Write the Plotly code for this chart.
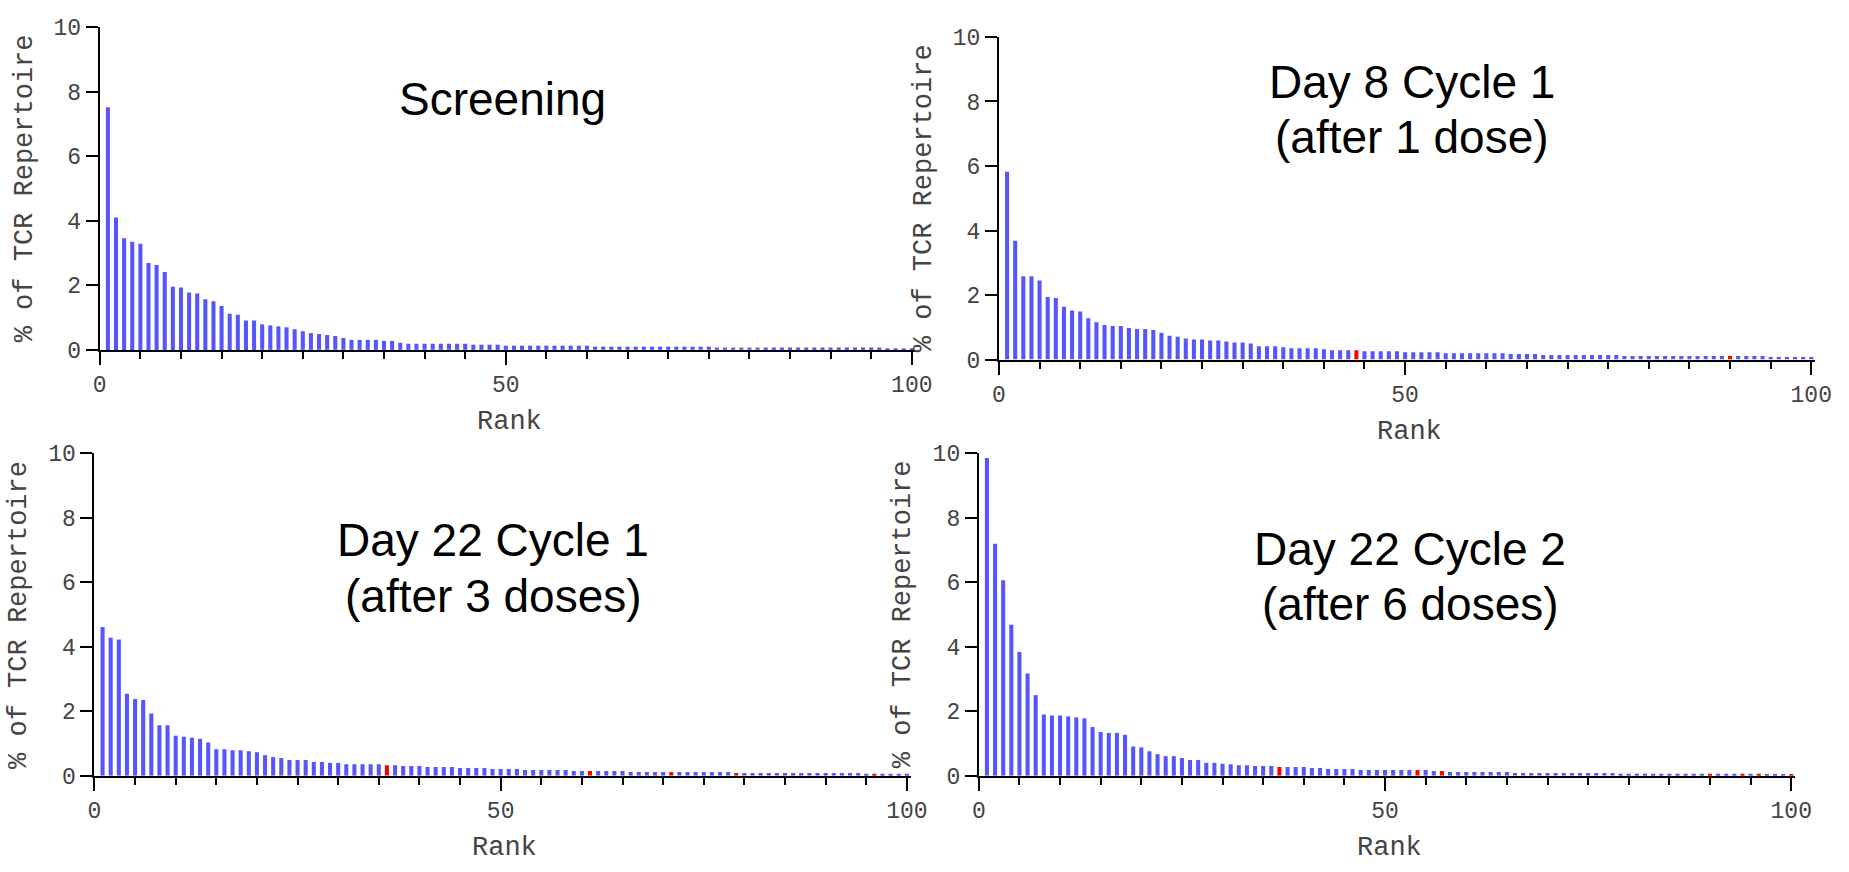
import plotly.graph_objects as go

ranks = list(range(1, 101))

def expand(head, runs):
    out = list(head)
    for val, n in runs:
        out += [val] * n
    return out

# Screening
screening = expand(
    [7.52, 4.10, 3.46, 3.35, 3.29, 2.69, 2.63, 2.41, 1.96, 1.93,
     1.78, 1.75, 1.57, 1.51, 1.36, 1.12, 1.09, 0.91, 0.91, 0.79,
     0.76, 0.73, 0.70, 0.64, 0.58, 0.52, 0.49, 0.46, 0.43, 0.37],
    [(0.31, 4), (0.28, 2), (0.22, 1), (0.19, 8), (0.16, 4), (0.13, 11),
     (0.10, 15), (0.07, 21), (0.04, 4)])
# Day 8 Cycle 1
d8c1 = expand(
    [5.82, 3.68, 2.58, 2.58, 2.45, 1.94, 1.91, 1.64, 1.52, 1.49,
     1.28, 1.16, 1.07, 1.04, 1.04, 0.98, 0.95, 0.95, 0.92, 0.83,
     0.74, 0.71, 0.65, 0.62, 0.62, 0.59, 0.59, 0.56, 0.53, 0.53, 0.50],
    [(0.41, 3), (0.38, 1), (0.35, 4), (0.32, 1), (0.29, 4), (0.26, 5),
     (0.23, 5), (0.20, 8), (0.17, 4), (0.14, 10), (0.11, 18), (0.08, 6)])
# Day 22 Cycle 1
d22c1 = expand(
    [4.61, 4.28, 4.22, 2.54, 2.38, 2.35, 1.93, 1.57, 1.57, 1.24,
     1.21, 1.18, 1.15, 1.03, 0.82, 0.82, 0.79, 0.79, 0.76, 0.73,
     0.64, 0.58, 0.55, 0.49, 0.49, 0.49, 0.43, 0.43, 0.40, 0.40],
    [(0.36, 5), (0.33, 2), (0.30, 3), (0.27, 4), (0.24, 4), (0.21, 4),
     (0.18, 6), (0.15, 7), (0.12, 13), (0.09, 16), (0.06, 6)])
# Day 22 Cycle 2
d22c2 = expand(
    [9.85, 7.19, 6.06, 4.68, 3.84, 3.17, 2.50, 1.90, 1.87, 1.87,
     1.84, 1.81, 1.78, 1.51, 1.36, 1.33, 1.33, 1.27, 0.91, 0.88,
     0.76, 0.67, 0.61, 0.61, 0.55, 0.49, 0.49, 0.40, 0.40, 0.37, 0.36],
    [(0.33, 2), (0.30, 3), (0.27, 4), (0.24, 2), (0.21, 4), (0.18, 9),
     (0.15, 2), (0.12, 8), (0.09, 13), (0.06, 18), (0.03, 4)])

# highlighted (red) ranks per panel
red_screening = []
red_d8c1 = [44, 90]
red_d22c1 = [36, 61, 71, 79, 96]
red_d22c2 = [37, 54, 57, 90, 94, 96, 100]

title_lines = [["Screening"],
               ["Day 8 Cycle 1", "(after 1 dose)"],
               ["Day 22 Cycle 1", "(after 3 doses)"],
               ["Day 22 Cycle 2", "(after 6 doses)"]]
series = [screening, d8c1, d22c1, d22c2]
reds = [red_screening, red_d8c1, red_d22c1, red_d22c2]
x_tickvals = [0, 50, 100]
y_tickvals = [0, 2, 4, 6, 8, 10]

BLUE = "#5656FF"
RED = "#FF0000"
W, H = 1849, 872

# panel geometry in pixels: (x at rank 0, px per rank, y at 0, y at 10)
geo = [(94.0, 8.227, 349.3, 16.7),
       (1005.0, 8.23, 359.3, 26.7),
       (88.6, 8.231, 788.3, 455.7),
       (984.6, 8.231, 788.3, 455.7)]
# title line anchors in data units (x centre, y per line)
title_x = [49.6, 50.8, 49.1, 53.1]
title_y = [[7.77], [8.61, 6.89], [7.32, 5.58], [7.04, 5.31]]

XMAX = 100.5
fig = go.Figure()
tick_font = dict(family="Courier New, Liberation Mono, monospace", size=23, color="#444444")
title_font = dict(family="Courier New, Liberation Mono, monospace", size=27, color="#444444")

for i in range(4):
    n = i + 1
    xa = "x" if n == 1 else f"x{n}"
    ya = "y" if n == 1 else f"y{n}"
    colors = [RED if r in reds[i] else BLUE for r in ranks]
    fig.add_trace(go.Bar(x=ranks, y=series[i], marker=dict(color=colors, line=dict(width=0)),
                         width=0.5, xaxis=xa, yaxis=ya, showlegend=False))
    x0, ppu, y0, y10 = geo[i]
    dx = [x0 / W, (x0 + XMAX * ppu) / W]
    dy = [1 - y0 / H, 1 - y10 / H]
    xkey = "xaxis" if n == 1 else f"xaxis{n}"
    ykey = "yaxis" if n == 1 else f"yaxis{n}"
    fig.layout[xkey] = dict(
        domain=dx, anchor=ya, range=[0, XMAX], tickvals=x_tickvals,
        ticks="outside", ticklen=13, tickwidth=2, tickcolor="black",
        showline=True, linewidth=2, linecolor="black", showgrid=False, zeroline=False,
        tickfont=tick_font,
        minor=dict(ticks="outside", ticklen=7, tickwidth=2, tickcolor="black", dtick=5, showgrid=False),
    )
    fig.layout[ykey] = dict(
        domain=dy, anchor=xa, range=[0, 10], tickvals=y_tickvals,
        ticks="outside", ticklen=12, tickwidth=2, tickcolor="black",
        showline=True, linewidth=2, linecolor="black", showgrid=False, zeroline=False,
        tickfont=tick_font,
    )
    xd = xa + " domain"
    yd = ya + " domain"
    fig.add_annotation(text="Rank", xref=xa, yref=yd, x=50.5, y=0, yshift=-72,
                       showarrow=False, font=title_font, xanchor="center", yanchor="middle")
    fig.add_annotation(text="% of TCR Repertoire", xref=xd, yref=yd, x=0, y=0.5, xshift=-75,
                       textangle=-90, showarrow=False, font=title_font,
                       xanchor="center", yanchor="middle")
    for line, ty in zip(title_lines[i], title_y[i]):
        fig.add_annotation(text=line, xref=xa, yref=ya, x=title_x[i], y=ty, showarrow=False,
                           font=dict(family="Arial, Liberation Sans, sans-serif", size=46, color="black"),
                           xanchor="center", yanchor="middle", align="center")

fig.update_layout(width=W, height=H, margin=dict(l=0, r=0, t=0, b=0),
                  paper_bgcolor="white", plot_bgcolor="white", bargap=0.5)

fig.write_html("out.html", config={"displayModeBar": False},
               post_script="document.body.style.margin='0px';")
